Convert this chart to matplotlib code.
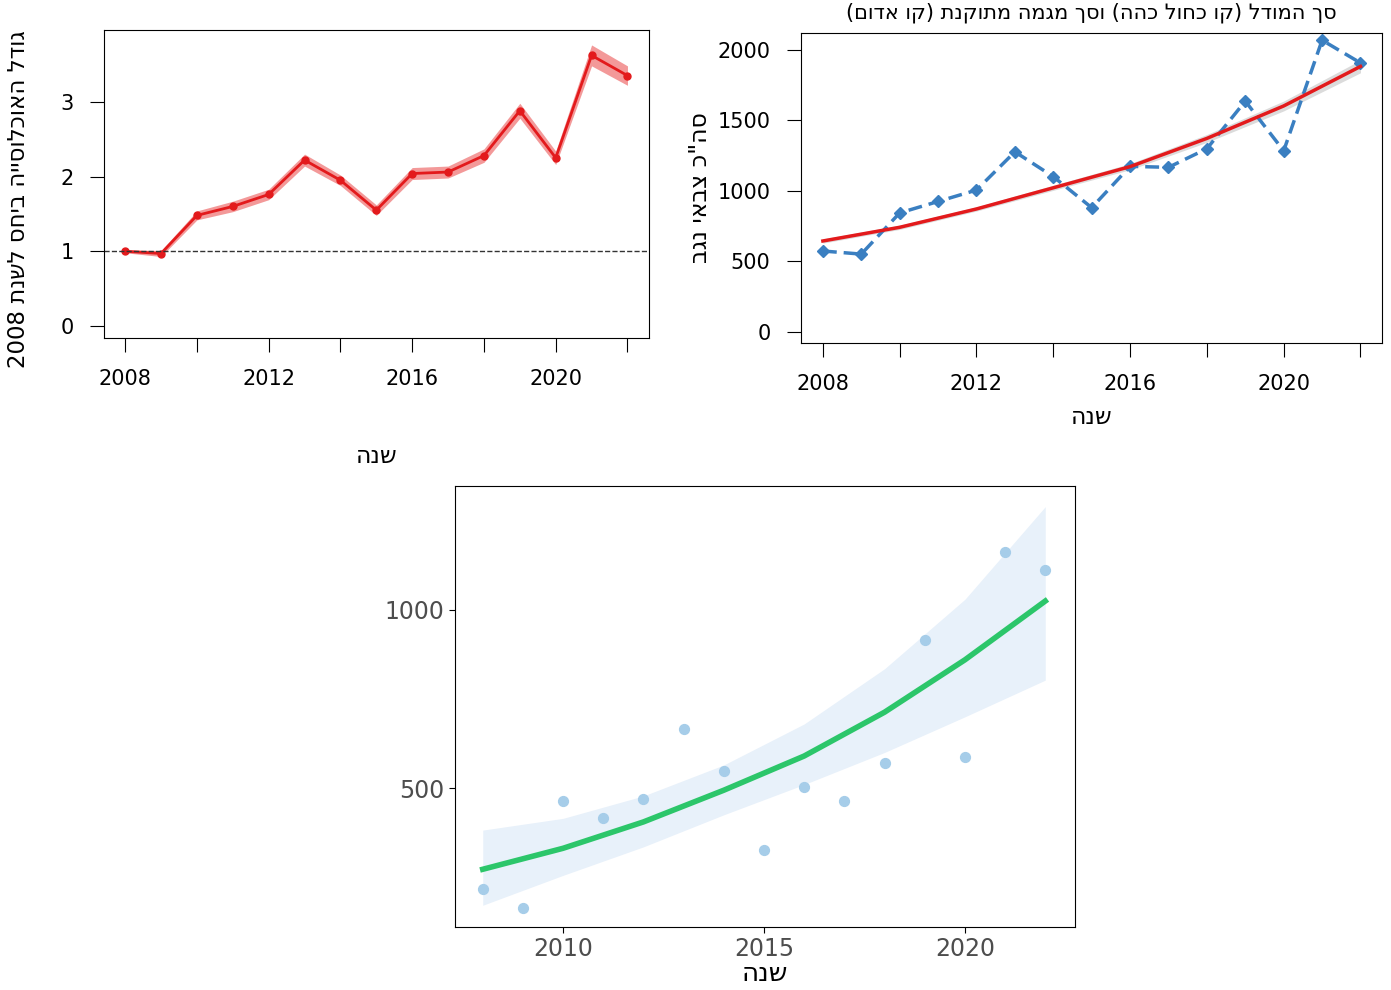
import re
import matplotlib.pyplot as plt
import numpy as np


def heb(s):
    # matplotlib has no bidi: reverse, mirror brackets, put digit runs back in order
    r = s[::-1].translate(str.maketrans("()", ")("))
    return re.sub(r"[0-9]+", lambda m: m.group(0)[::-1], r)


years = np.arange(2008, 2023)

# left panel: relative population
rel = [1.0, 0.97, 1.48, 1.6, 1.76, 2.22, 1.95, 1.55, 2.04, 2.06, 2.28, 2.88, 2.25, 3.62, 3.35]
rel_err = [0.02, 0.04, 0.06, 0.07, 0.07, 0.08, 0.07, 0.07, 0.08, 0.08, 0.09, 0.1, 0.09, 0.14, 0.13]

# top right: totals and trend
total = [572, 550, 842, 923, 1004, 1275, 1099, 879, 1172, 1165, 1297, 1634, 1282, 2066, 1905]
trend_years = [2008, 2010, 2012, 2014, 2016, 2018, 2020, 2022]
trend = [643, 740, 870, 1020, 1170, 1370, 1600, 1880]
trend_err = [15, 15, 15, 18, 22, 28, 35, 45]

# bottom: observations and fit
obs = [216, 163, 463, 416, 469, 666, 548, 326, 503, 463, 570, 916, 587, 1163, 1112]
fit_years = [2008, 2010, 2012, 2014, 2016, 2018, 2020, 2022]
fit = [272, 331, 405, 494, 590, 713, 860, 1025]
fit_lo = [171, 255, 335, 425, 510, 600, 700, 803]
fit_hi = [382, 415, 478, 565, 680, 835, 1030, 1290]

W, H = 1391, 990
fig = plt.figure(figsize=(W / 100, H / 100), dpi=100)


def ax_px(x0, y0, x1, y1):
    return fig.add_axes([x0 / W, 1 - y1 / H, (x1 - x0) / W, (y1 - y0) / H])


# ---- left
ax1 = ax_px(104, 30, 649, 338)
ax1.fill_between(years, np.array(rel) - rel_err, np.array(rel) + rel_err, color="#f08080", alpha=0.8, lw=0)
ax1.plot(years, rel, color="#e31a1c", lw=2, marker="o", ms=5)
ax1.axhline(1, color="#333333", ls="--", lw=1)
ax1.set_xlim(2007.41, 2022.6)
ax1.set_ylim(-0.16, 3.96)
ax1.set_xticks(range(2008, 2023, 2))
ax1.set_xticklabels(["2008", "", "2012", "", "2016", "", "2020", ""])
ax1.set_yticks([0, 1, 2, 3])
ax1.tick_params(labelsize=15, length=10, pad=12)
ax1.set_xlabel(heb("שנה"), fontsize=17, labelpad=40)
ax1.set_ylabel(heb("גודל האוכלוסייה ביחס לשנת 2008"), fontsize=16.5)
ax1.yaxis.set_label_coords(-0.135, 0.45)

# ---- top right
ax2 = ax_px(801, 33, 1382, 343)
ax2.fill_between(trend_years, np.array(trend) - trend_err, np.array(trend) + trend_err, color="#cccccc", alpha=0.7, lw=0)
ax2.plot(years, total, color="#3a7fc1", lw=2.5, ls=(0, (4, 2)), marker="D", ms=6)
ax2.plot(trend_years, trend, color="#e31a1c", lw=2.5)
ax2.set_xlim(2007.43, 2022.56)
ax2.set_ylim(-80, 2117)
ax2.set_xticks(range(2008, 2023, 2))
ax2.set_xticklabels(["2008", "", "2012", "", "2016", "", "2020", ""])
ax2.set_yticks([0, 500, 1000, 1500, 2000])
ax2.tick_params(labelsize=15, length=10, pad=12)
ax2.set_xlabel(heb("שנה"), fontsize=17, labelpad=8)
ax2.set_ylabel(heb('סה"כ צבאי נגב'), fontsize=17)
ax2.set_title(heb("סך המודל (קו כחול כהה) וסך מגמה מתוקנת (קו אדום)"), fontsize=15, y=1.02)

# ---- bottom
ax3 = ax_px(455, 486, 1075, 927)
ax3.fill_between(fit_years, fit_lo, fit_hi, color="#e8f1fa", lw=0)
ax3.scatter(years, obs, color="#a6cde9", s=50, zorder=3)
ax3.plot(fit_years, fit, color="#2cc66a", lw=4)
ax3.set_xlim(2007.31, 2022.74)
ax3.set_ylim(110, 1348)
ax3.set_xticks([2010, 2015, 2020])
ax3.set_yticks([500, 1000])
ax3.tick_params(labelsize=17, labelcolor="#4d4d4d", length=4)
ax3.set_xlabel(heb("שנה"), fontsize=19, labelpad=0)

fig.savefig("out.png", dpi=100)
